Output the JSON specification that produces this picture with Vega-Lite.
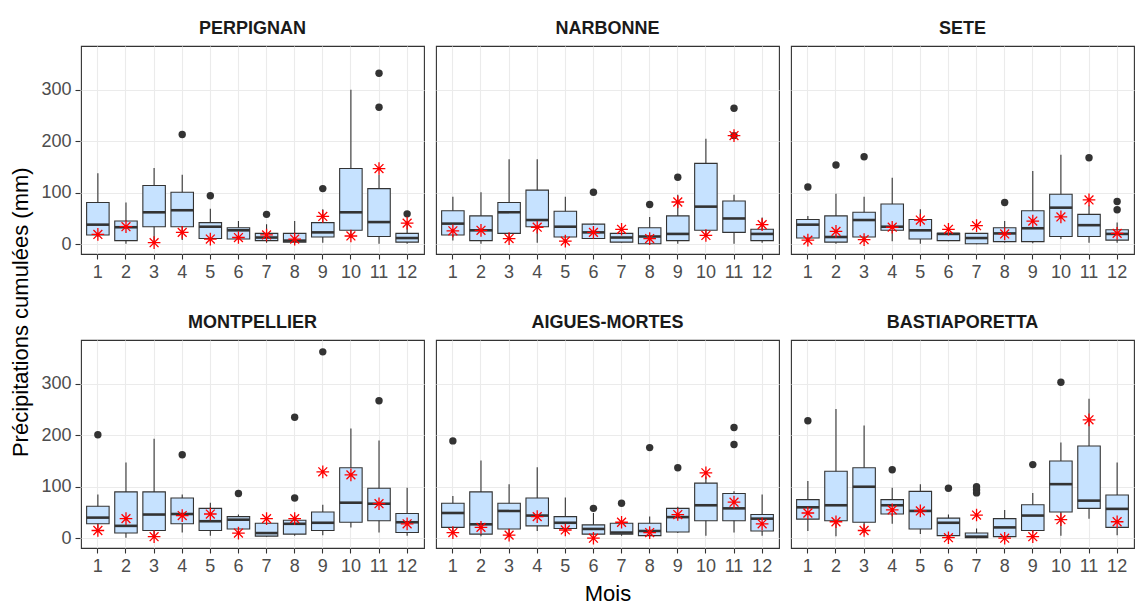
{
 "$schema": "https://vega.github.io/schema/vega-lite/v6.json",
 "background": "white",
 "padding": {"left": 9, "top": 19, "right": 0, "bottom": 0},
 "title": {"text": "Précipitations cumulées (mm)", "orient": "left", "anchor": "middle", "fontSize": 22, "fontWeight": "normal", "font": "Liberation Sans", "color": "#000000", "offset": 8},
 "data": {"values": [
  {"station":"PERPIGNAN","month":1,"type":"box","lo":14,"q1":18,"med":38,"q3":81,"hi":138},
  {"station":"PERPIGNAN","month":2,"type":"box","lo":1,"q1":7,"med":33,"q3":45,"hi":81},
  {"station":"PERPIGNAN","month":3,"type":"box","lo":5,"q1":34,"med":62,"q3":114,"hi":148},
  {"station":"PERPIGNAN","month":4,"type":"box","lo":8,"q1":34,"med":66,"q3":101,"hi":135},
  {"station":"PERPIGNAN","month":5,"type":"box","lo":5,"q1":11,"med":34,"q3":42,"hi":69},
  {"station":"PERPIGNAN","month":6,"type":"box","lo":8,"q1":10,"med":27,"q3":32,"hi":45},
  {"station":"PERPIGNAN","month":7,"type":"box","lo":3,"q1":7,"med":13,"q3":21,"hi":39},
  {"station":"PERPIGNAN","month":8,"type":"box","lo":2,"q1":4,"med":7,"q3":21,"hi":45},
  {"station":"PERPIGNAN","month":9,"type":"box","lo":3,"q1":14,"med":23,"q3":42,"hi":68},
  {"station":"PERPIGNAN","month":10,"type":"box","lo":12,"q1":27,"med":62,"q3":147,"hi":300},
  {"station":"PERPIGNAN","month":11,"type":"box","lo":1,"q1":15,"med":43,"q3":108,"hi":135},
  {"station":"PERPIGNAN","month":12,"type":"box","lo":1,"q1":4,"med":12,"q3":21,"hi":40},
  {"station":"PERPIGNAN","month":1,"type":"obs","value":19},
  {"station":"PERPIGNAN","month":2,"type":"obs","value":34},
  {"station":"PERPIGNAN","month":3,"type":"obs","value":3},
  {"station":"PERPIGNAN","month":4,"type":"obs","value":23},
  {"station":"PERPIGNAN","month":5,"type":"obs","value":10},
  {"station":"PERPIGNAN","month":6,"type":"obs","value":13},
  {"station":"PERPIGNAN","month":7,"type":"obs","value":18},
  {"station":"PERPIGNAN","month":8,"type":"obs","value":10},
  {"station":"PERPIGNAN","month":9,"type":"obs","value":54},
  {"station":"PERPIGNAN","month":10,"type":"obs","value":16},
  {"station":"PERPIGNAN","month":11,"type":"obs","value":147},
  {"station":"PERPIGNAN","month":12,"type":"obs","value":41},
  {"station":"PERPIGNAN","month":4,"type":"out","value":213},
  {"station":"PERPIGNAN","month":5,"type":"out","value":94},
  {"station":"PERPIGNAN","month":7,"type":"out","value":58},
  {"station":"PERPIGNAN","month":9,"type":"out","value":108},
  {"station":"PERPIGNAN","month":11,"type":"out","value":266},
  {"station":"PERPIGNAN","month":11,"type":"out","value":332},
  {"station":"PERPIGNAN","month":12,"type":"out","value":59},

  {"station":"NARBONNE","month":1,"type":"box","lo":7,"q1":18,"med":40,"q3":65,"hi":92},
  {"station":"NARBONNE","month":2,"type":"box","lo":1,"q1":7,"med":27,"q3":55,"hi":101},
  {"station":"NARBONNE","month":3,"type":"box","lo":8,"q1":21,"med":62,"q3":81,"hi":165},
  {"station":"NARBONNE","month":4,"type":"box","lo":3,"q1":34,"med":47,"q3":105,"hi":165},
  {"station":"NARBONNE","month":5,"type":"box","lo":6,"q1":14,"med":34,"q3":64,"hi":92},
  {"station":"NARBONNE","month":6,"type":"box","lo":10,"q1":11,"med":23,"q3":39,"hi":40},
  {"station":"NARBONNE","month":7,"type":"box","lo":3,"q1":4,"med":13,"q3":21,"hi":22},
  {"station":"NARBONNE","month":8,"type":"box","lo":0,"q1":1,"med":15,"q3":32,"hi":53},
  {"station":"NARBONNE","month":9,"type":"box","lo":1,"q1":7,"med":20,"q3":55,"hi":96},
  {"station":"NARBONNE","month":10,"type":"box","lo":18,"q1":27,"med":73,"q3":157,"hi":205},
  {"station":"NARBONNE","month":11,"type":"box","lo":1,"q1":23,"med":50,"q3":84,"hi":96},
  {"station":"NARBONNE","month":12,"type":"box","lo":3,"q1":7,"med":20,"q3":29,"hi":52},
  {"station":"NARBONNE","month":1,"type":"obs","value":26},
  {"station":"NARBONNE","month":2,"type":"obs","value":27},
  {"station":"NARBONNE","month":3,"type":"obs","value":11},
  {"station":"NARBONNE","month":4,"type":"obs","value":33},
  {"station":"NARBONNE","month":5,"type":"obs","value":6},
  {"station":"NARBONNE","month":6,"type":"obs","value":23},
  {"station":"NARBONNE","month":7,"type":"obs","value":29},
  {"station":"NARBONNE","month":8,"type":"obs","value":11},
  {"station":"NARBONNE","month":9,"type":"obs","value":82},
  {"station":"NARBONNE","month":10,"type":"obs","value":17},
  {"station":"NARBONNE","month":11,"type":"obs","value":211},
  {"station":"NARBONNE","month":12,"type":"obs","value":38},
  {"station":"NARBONNE","month":6,"type":"out","value":101},
  {"station":"NARBONNE","month":8,"type":"out","value":77},
  {"station":"NARBONNE","month":9,"type":"out","value":130},
  {"station":"NARBONNE","month":11,"type":"out","value":211},
  {"station":"NARBONNE","month":11,"type":"out","value":264},

  {"station":"SETE","month":1,"type":"box","lo":10,"q1":12,"med":38,"q3":48,"hi":55},
  {"station":"SETE","month":2,"type":"box","lo":1,"q1":4,"med":14,"q3":55,"hi":98},
  {"station":"SETE","month":3,"type":"box","lo":5,"q1":14,"med":47,"q3":62,"hi":92},
  {"station":"SETE","month":4,"type":"box","lo":6,"q1":27,"med":34,"q3":78,"hi":129},
  {"station":"SETE","month":5,"type":"box","lo":1,"q1":10,"med":27,"q3":48,"hi":68},
  {"station":"SETE","month":6,"type":"box","lo":6,"q1":7,"med":20,"q3":21,"hi":21},
  {"station":"SETE","month":7,"type":"box","lo":0,"q1":1,"med":12,"q3":21,"hi":21},
  {"station":"SETE","month":8,"type":"box","lo":3,"q1":5,"med":21,"q3":32,"hi":45},
  {"station":"SETE","month":9,"type":"box","lo":2,"q1":5,"med":31,"q3":65,"hi":142},
  {"station":"SETE","month":10,"type":"box","lo":10,"q1":15,"med":71,"q3":97,"hi":174},
  {"station":"SETE","month":11,"type":"box","lo":3,"q1":15,"med":37,"q3":58,"hi":75},
  {"station":"SETE","month":12,"type":"box","lo":3,"q1":8,"med":20,"q3":28,"hi":42},
  {"station":"SETE","month":1,"type":"obs","value":8},
  {"station":"SETE","month":2,"type":"obs","value":25},
  {"station":"SETE","month":3,"type":"obs","value":9},
  {"station":"SETE","month":4,"type":"obs","value":33},
  {"station":"SETE","month":5,"type":"obs","value":47},
  {"station":"SETE","month":6,"type":"obs","value":29},
  {"station":"SETE","month":7,"type":"obs","value":36},
  {"station":"SETE","month":8,"type":"obs","value":20},
  {"station":"SETE","month":9,"type":"obs","value":45},
  {"station":"SETE","month":10,"type":"obs","value":53},
  {"station":"SETE","month":11,"type":"obs","value":86},
  {"station":"SETE","month":12,"type":"obs","value":21},
  {"station":"SETE","month":1,"type":"out","value":111},
  {"station":"SETE","month":2,"type":"out","value":154},
  {"station":"SETE","month":3,"type":"out","value":170},
  {"station":"SETE","month":8,"type":"out","value":81},
  {"station":"SETE","month":11,"type":"out","value":168},
  {"station":"SETE","month":12,"type":"out","value":67},
  {"station":"SETE","month":12,"type":"out","value":83},

  {"station":"MONTPELLIER","month":1,"type":"box","lo":20,"q1":28,"med":40,"q3":62,"hi":85},
  {"station":"MONTPELLIER","month":2,"type":"box","lo":1,"q1":10,"med":24,"q3":90,"hi":147},
  {"station":"MONTPELLIER","month":3,"type":"box","lo":3,"q1":15,"med":46,"q3":90,"hi":193},
  {"station":"MONTPELLIER","month":4,"type":"box","lo":11,"q1":28,"med":47,"q3":78,"hi":85},
  {"station":"MONTPELLIER","month":5,"type":"box","lo":5,"q1":15,"med":33,"q3":58,"hi":69},
  {"station":"MONTPELLIER","month":6,"type":"box","lo":12,"q1":18,"med":36,"q3":42,"hi":46},
  {"station":"MONTPELLIER","month":7,"type":"box","lo":3,"q1":4,"med":10,"q3":29,"hi":29},
  {"station":"MONTPELLIER","month":8,"type":"box","lo":5,"q1":8,"med":28,"q3":35,"hi":45},
  {"station":"MONTPELLIER","month":9,"type":"box","lo":6,"q1":15,"med":30,"q3":51,"hi":65},
  {"station":"MONTPELLIER","month":10,"type":"box","lo":21,"q1":31,"med":69,"q3":137,"hi":213},
  {"station":"MONTPELLIER","month":11,"type":"box","lo":11,"q1":34,"med":67,"q3":97,"hi":190},
  {"station":"MONTPELLIER","month":12,"type":"box","lo":5,"q1":11,"med":31,"q3":48,"hi":98},
  {"station":"MONTPELLIER","month":1,"type":"obs","value":15},
  {"station":"MONTPELLIER","month":2,"type":"obs","value":38},
  {"station":"MONTPELLIER","month":3,"type":"obs","value":3},
  {"station":"MONTPELLIER","month":4,"type":"obs","value":44},
  {"station":"MONTPELLIER","month":5,"type":"obs","value":47},
  {"station":"MONTPELLIER","month":6,"type":"obs","value":10},
  {"station":"MONTPELLIER","month":7,"type":"obs","value":38},
  {"station":"MONTPELLIER","month":8,"type":"obs","value":38},
  {"station":"MONTPELLIER","month":9,"type":"obs","value":129},
  {"station":"MONTPELLIER","month":10,"type":"obs","value":123},
  {"station":"MONTPELLIER","month":11,"type":"obs","value":67},
  {"station":"MONTPELLIER","month":12,"type":"obs","value":28},
  {"station":"MONTPELLIER","month":1,"type":"out","value":201},
  {"station":"MONTPELLIER","month":4,"type":"out","value":162},
  {"station":"MONTPELLIER","month":6,"type":"out","value":87},
  {"station":"MONTPELLIER","month":8,"type":"out","value":78},
  {"station":"MONTPELLIER","month":8,"type":"out","value":235},
  {"station":"MONTPELLIER","month":9,"type":"out","value":362},
  {"station":"MONTPELLIER","month":11,"type":"out","value":267},

  {"station":"AIGUES-MORTES","month":1,"type":"box","lo":8,"q1":21,"med":49,"q3":68,"hi":82},
  {"station":"AIGUES-MORTES","month":2,"type":"box","lo":4,"q1":8,"med":27,"q3":90,"hi":151},
  {"station":"AIGUES-MORTES","month":3,"type":"box","lo":8,"q1":18,"med":53,"q3":68,"hi":105},
  {"station":"AIGUES-MORTES","month":4,"type":"box","lo":14,"q1":24,"med":44,"q3":78,"hi":138},
  {"station":"AIGUES-MORTES","month":5,"type":"box","lo":12,"q1":19,"med":30,"q3":42,"hi":79},
  {"station":"AIGUES-MORTES","month":6,"type":"box","lo":5,"q1":8,"med":18,"q3":26,"hi":49},
  {"station":"AIGUES-MORTES","month":7,"type":"box","lo":5,"q1":8,"med":11,"q3":29,"hi":29},
  {"station":"AIGUES-MORTES","month":8,"type":"box","lo":3,"q1":5,"med":14,"q3":29,"hi":42},
  {"station":"AIGUES-MORTES","month":9,"type":"box","lo":10,"q1":12,"med":41,"q3":58,"hi":61},
  {"station":"AIGUES-MORTES","month":10,"type":"box","lo":5,"q1":34,"med":64,"q3":107,"hi":120},
  {"station":"AIGUES-MORTES","month":11,"type":"box","lo":11,"q1":34,"med":58,"q3":87,"hi":91},
  {"station":"AIGUES-MORTES","month":12,"type":"box","lo":5,"q1":14,"med":38,"q3":46,"hi":85},
  {"station":"AIGUES-MORTES","month":1,"type":"obs","value":11},
  {"station":"AIGUES-MORTES","month":2,"type":"obs","value":21},
  {"station":"AIGUES-MORTES","month":3,"type":"obs","value":6},
  {"station":"AIGUES-MORTES","month":4,"type":"obs","value":42},
  {"station":"AIGUES-MORTES","month":5,"type":"obs","value":16},
  {"station":"AIGUES-MORTES","month":6,"type":"obs","value":0},
  {"station":"AIGUES-MORTES","month":7,"type":"obs","value":31},
  {"station":"AIGUES-MORTES","month":8,"type":"obs","value":11},
  {"station":"AIGUES-MORTES","month":9,"type":"obs","value":46},
  {"station":"AIGUES-MORTES","month":10,"type":"obs","value":127},
  {"station":"AIGUES-MORTES","month":11,"type":"obs","value":70},
  {"station":"AIGUES-MORTES","month":12,"type":"obs","value":28},
  {"station":"AIGUES-MORTES","month":1,"type":"out","value":189},
  {"station":"AIGUES-MORTES","month":6,"type":"out","value":58},
  {"station":"AIGUES-MORTES","month":7,"type":"out","value":68},
  {"station":"AIGUES-MORTES","month":8,"type":"out","value":176},
  {"station":"AIGUES-MORTES","month":9,"type":"out","value":137},
  {"station":"AIGUES-MORTES","month":11,"type":"out","value":182},
  {"station":"AIGUES-MORTES","month":11,"type":"out","value":215},

  {"station":"BASTIAPORETTA","month":1,"type":"box","lo":14,"q1":37,"med":60,"q3":75,"hi":111},
  {"station":"BASTIAPORETTA","month":2,"type":"box","lo":4,"q1":34,"med":64,"q3":130,"hi":251},
  {"station":"BASTIAPORETTA","month":3,"type":"box","lo":10,"q1":31,"med":100,"q3":137,"hi":219},
  {"station":"BASTIAPORETTA","month":4,"type":"box","lo":28,"q1":47,"med":64,"q3":75,"hi":98},
  {"station":"BASTIAPORETTA","month":5,"type":"box","lo":8,"q1":18,"med":53,"q3":91,"hi":105},
  {"station":"BASTIAPORETTA","month":6,"type":"box","lo":3,"q1":5,"med":30,"q3":39,"hi":46},
  {"station":"BASTIAPORETTA","month":7,"type":"box","lo":0,"q1":1,"med":3,"q3":10,"hi":19},
  {"station":"BASTIAPORETTA","month":8,"type":"box","lo":1,"q1":3,"med":21,"q3":38,"hi":55},
  {"station":"BASTIAPORETTA","month":9,"type":"box","lo":10,"q1":15,"med":44,"q3":65,"hi":88},
  {"station":"BASTIAPORETTA","month":10,"type":"box","lo":5,"q1":51,"med":105,"q3":150,"hi":186},
  {"station":"BASTIAPORETTA","month":11,"type":"box","lo":38,"q1":58,"med":73,"q3":179,"hi":271},
  {"station":"BASTIAPORETTA","month":12,"type":"box","lo":6,"q1":21,"med":57,"q3":84,"hi":147},
  {"station":"BASTIAPORETTA","month":1,"type":"obs","value":49},
  {"station":"BASTIAPORETTA","month":2,"type":"obs","value":32},
  {"station":"BASTIAPORETTA","month":3,"type":"obs","value":15},
  {"station":"BASTIAPORETTA","month":4,"type":"obs","value":55},
  {"station":"BASTIAPORETTA","month":5,"type":"obs","value":53},
  {"station":"BASTIAPORETTA","month":6,"type":"obs","value":1},
  {"station":"BASTIAPORETTA","month":7,"type":"obs","value":45},
  {"station":"BASTIAPORETTA","month":8,"type":"obs","value":0},
  {"station":"BASTIAPORETTA","month":9,"type":"obs","value":3},
  {"station":"BASTIAPORETTA","month":10,"type":"obs","value":36},
  {"station":"BASTIAPORETTA","month":11,"type":"obs","value":230},
  {"station":"BASTIAPORETTA","month":12,"type":"obs","value":32},
  {"station":"BASTIAPORETTA","month":1,"type":"out","value":228},
  {"station":"BASTIAPORETTA","month":4,"type":"out","value":133},
  {"station":"BASTIAPORETTA","month":6,"type":"out","value":97},
  {"station":"BASTIAPORETTA","month":7,"type":"out","value":88},
  {"station":"BASTIAPORETTA","month":7,"type":"out","value":94},
  {"station":"BASTIAPORETTA","month":7,"type":"out","value":100},
  {"station":"BASTIAPORETTA","month":9,"type":"out","value":143},
  {"station":"BASTIAPORETTA","month":10,"type":"out","value":303}
 ]},
 "facet": {"field": "station", "type": "nominal",
   "sort": ["PERPIGNAN","NARBONNE","SETE","MONTPELLIER","AIGUES-MORTES","BASTIAPORETTA"],
   "header": {"title": "Mois", "titleOrient": "bottom", "labelOrient": "top"}},
 "columns": 3,
 "spacing": {"row": 31, "column": 10},
 "resolve": {"axis": {"x": "independent"}},
 "spec": {
  "width": 343,
  "height": 208,
  "encoding": {
   "x": {"field": "month", "type": "ordinal",
     "scale": {"domain": [1,2,3,4,5,6,7,8,9,10,11,12], "paddingInner": 0, "paddingOuter": 0.1},
     "axis": {"title": null, "labelAngle": 0, "bandPosition": 0.5, "grid": true, "labelPadding": 4}}
  },
  "layer": [
   {"transform": [{"filter": "datum.type === 'box'"}],
    "mark": {"type": "rule", "color": "#333333", "strokeWidth": 1.1},
    "encoding": {
     "y": {"field": "lo", "type": "quantitative", "title": null,
       "scale": {"domain": [-19, 385], "nice": false, "zero": false},
       "axis": {"title": null, "values": [0,50,100,150,200,250,300,350],
         "labelExpr": "datum.value % 100 === 0 ? datum.label : ''",
         "tickOpacity": {"condition": {"test": "datum.value % 100 === 0", "value": 1}, "value": 0},
         "gridWidth": {"condition": {"test": "datum.value % 100 === 0", "value": 1.1}, "value": 0.6}}},
     "y2": {"field": "hi"}}},
   {"transform": [{"filter": "datum.type === 'box'"}],
    "mark": {"type": "bar", "fill": "#C6E2FF", "stroke": "#333333", "strokeWidth": 1.1, "width": {"band": 0.8}},
    "encoding": {
     "y": {"field": "q1", "type": "quantitative", "title": null},
     "y2": {"field": "q3"}}},
   {"transform": [{"filter": "datum.type === 'box'"}],
    "mark": {"type": "tick", "color": "#333333", "thickness": 2.6, "size": 22.5, "opacity": 1},
    "encoding": {
     "y": {"field": "med", "type": "quantitative", "title": null}}},
   {"transform": [{"filter": "datum.type === 'out'"}],
    "mark": {"type": "circle", "color": "#333333", "size": 55, "opacity": 1},
    "encoding": {
     "y": {"field": "value", "type": "quantitative", "title": null}}},
   {"transform": [{"filter": "datum.type === 'obs'"}],
    "mark": {"type": "point", "shape": "M-1,0L1,0M0,-1L0,1M-0.7,-0.7L0.7,0.7M-0.7,0.7L0.7,-0.7", "filled": false, "color": "#FF0000", "strokeWidth": 1.3, "size": 160, "opacity": 1},
    "encoding": {
     "y": {"field": "value", "type": "quantitative", "title": null}}}
  ]
 },
 "config": {
  "font": "Liberation Sans",
  "view": {"stroke": "#333333", "strokeWidth": 1.1},
  "axis": {"labelFont": "Liberation Sans", "labelFontSize": 18, "labelColor": "#4D4D4D", "tickColor": "#333333", "tickSize": 5, "tickWidth": 1.1, "labelPadding": 4, "domain": false, "gridColor": "#EBEBEB", "gridWidth": 1.1},
  "header": {"labelFont": "Liberation Sans", "labelFontSize": 18, "labelFontWeight": "bold", "labelColor": "#1A1A1A", "labelPadding": 8, "titleFont": "Liberation Sans", "titleFontSize": 22, "titleFontWeight": "normal", "titleColor": "#000000", "titlePadding": 8}
 }
}
